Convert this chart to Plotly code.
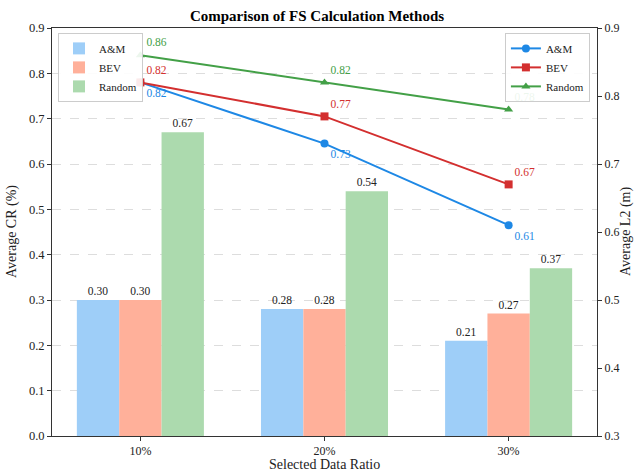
import plotly.graph_objects as go

categories = ["10%", "20%", "30%"]
methods = ["A&M", "BEV", "Random"]

cr_am = [0.30, 0.28, 0.21]
cr_bev = [0.30, 0.28, 0.27]
cr_random = [0.67, 0.54, 0.37]

l2_am = [0.82, 0.73, 0.61]
l2_bev = [0.82, 0.77, 0.67]
l2_random = [0.86, 0.82, 0.78]

bar_colors = ["rgb(158,206,248)", "rgb(255,176,154)", "rgb(172,218,174)"]
line_colors = ["#1E88E5", "#D32F2F", "#43A047"]
markers = ["circle", "square", "triangle-up"]
label_pos = ["bottom right", "top right", "top right"]

FONT = "Liberation Serif, Times New Roman, serif"

fig = go.Figure()

for name, vals, col in zip(methods, [cr_am, cr_bev, cr_random], bar_colors):
    fig.add_trace(go.Bar(
        x=categories, y=vals, name=name, marker=dict(color=col, line=dict(width=0)),
        text=[f"{v:.2f}" for v in vals], textposition="outside",
        textfont=dict(size=11.5, color="#222", family=FONT),
        cliponaxis=False, legend="legend", yaxis="y",
    ))

for name, vals, col, mk, pos in zip(methods, [l2_am, l2_bev, l2_random], line_colors, markers, label_pos):
    fig.add_trace(go.Scatter(
        x=categories, y=vals, name=name, mode="lines+markers+text",
        line=dict(color=col, width=2), marker=dict(symbol=mk, size=8, color=col),
        text=[f"{v:.2f}" for v in vals], textposition=pos,
        textfont=dict(size=11.5, color=col, family=FONT),
        cliponaxis=False, yaxis="y2", legend="legend2",
    ))

fig.update_layout(
    width=634, height=473,
    margin=dict(l=52, r=37, t=28, b=37, autoexpand=False),
    paper_bgcolor="white", plot_bgcolor="white",
    font=dict(family=FONT, size=12, color="#222"),
    title=dict(text="<b>Comparison of FS Calculation Methods</b>", x=0.5, xanchor="center",
               y=0.966, yanchor="middle", font=dict(size=15, color="black")),
    barmode="group", bargap=0.31, bargroupgap=0,
    xaxis=dict(type="category", range=[-0.48, 2.48], showline=True, linecolor="#333", linewidth=1,
               mirror=True, ticks="outside", ticklen=4, tickcolor="#333", automargin=False,
               tickfont=dict(size=12)),
    yaxis=dict(range=[0, 0.9], dtick=0.1, tickformat=".1f", showline=True, linecolor="#333",
               linewidth=1, ticks="outside", ticklen=4, tickcolor="#333", automargin=False,
               showgrid=True, gridcolor="#dddddd", griddash="dash", gridwidth=1, zeroline=False,
               tickfont=dict(size=12.5)),
    yaxis2=dict(range=[0.3, 0.9], dtick=0.1, tickformat=".1f", overlaying="y", side="right",
                showline=True, linecolor="#333", linewidth=1, ticks="outside", ticklen=4,
                tickcolor="#333", showgrid=False, zeroline=False, automargin=False,
                tickfont=dict(size=12)),
    legend=dict(x=0.011, y=0.988, xanchor="left", yanchor="top", bgcolor="rgba(255,255,255,0.9)",
                bordercolor="#cccccc", borderwidth=1, font=dict(size=11), tracegroupgap=0,
                itemwidth=30),
    legend2=dict(x=0.987, y=0.988, xanchor="right", yanchor="top", bgcolor="rgba(255,255,255,0.9)",
                 bordercolor="#cccccc", borderwidth=1, font=dict(size=11), tracegroupgap=0,
                 itemwidth=30),
    annotations=[
        dict(text="Selected Data Ratio", xref="paper", yref="paper", x=0.5, y=0, yshift=-28,
             xanchor="center", yanchor="middle", showarrow=False, font=dict(size=14)),
        dict(text="Average CR (%)", xref="paper", yref="paper", x=0, y=0.5, xshift=-40,
             textangle=-90, xanchor="center", yanchor="middle", showarrow=False, font=dict(size=14)),
        dict(text="Average L2 (m)", xref="paper", yref="paper", x=1, y=0.5, xshift=29,
             textangle=-90, xanchor="center", yanchor="middle", showarrow=False, font=dict(size=14)),
    ],
)

fig.write_html("out.html", config={"displayModeBar": False},
               post_script="document.body.style.margin='0';")
